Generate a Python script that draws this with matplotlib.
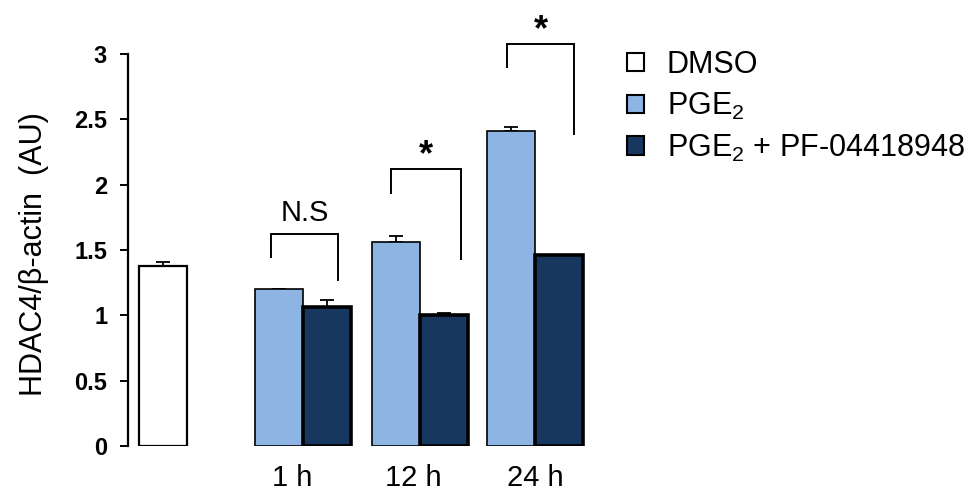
import matplotlib
matplotlib.use("Agg")
import matplotlib.pyplot as plt
from matplotlib.patches import Patch
import numpy as np

plt.rcParams['font.family'] = ['Liberation Sans', 'DejaVu Sans']
plt.rcParams['mathtext.fontset'] = 'custom'
plt.rcParams['mathtext.rm'] = 'Liberation Sans'
plt.rcParams['mathtext.it'] = 'Liberation Sans:italic'
plt.rcParams['mathtext.bf'] = 'Liberation Sans:bold'

# ---- data ----
time_labels = ["1 h", "12 h", "24 h"]
dmso_value = 1.38
dmso_err = 0.025
pge2_values = [1.20, 1.56, 2.41]
pge2_err = [0.005, 0.05, 0.035]
pf_values = [1.06, 1.00, 1.46]
pf_err = [0.06, 0.02, 0.005]
series_labels = ["DMSO", "PGE$_2$", "PGE$_2$ + PF-04418948"]
sig_labels = ["N.S", "*", "*"]
bracket_tops = [1.62, 2.12, 3.076]
bracket_left_bottoms = [1.446, 1.94, 2.90]
bracket_right_bottoms = [1.27, 1.43, 2.387]

c_dmso = "#FFFFFF"
c_pge2 = "#8EB4E3"
c_pf = "#17375E"

fig = plt.figure(figsize=(9.71, 4.91), dpi=100)
ax = fig.add_axes([128/971, 45/491, 472/971, 392/491])

w = 0.4085
dmso_x = 0.0
group_x = np.array([1.19, 2.187, 3.166])
pge2_x = group_x - w/2
pf_x = group_x + w/2

ax.bar([dmso_x], [dmso_value], width=w, color=c_dmso, edgecolor="black",
       linewidth=1.6, zorder=2)
ax.errorbar([dmso_x], [dmso_value], yerr=[[0], [dmso_err]], fmt="none",
            ecolor="black", elinewidth=1.3, capsize=5, capthick=1.3, zorder=1)

ax.bar(pge2_x, pge2_values, width=w, color=c_pge2, edgecolor="black",
       linewidth=1.2, zorder=2)
ax.errorbar(pge2_x, pge2_values, yerr=[np.zeros(3), pge2_err], fmt="none",
            ecolor="black", elinewidth=1.3, capsize=5, capthick=1.3, zorder=1)

ax.bar(pf_x, pf_values, width=w, color=c_pf, edgecolor="black",
       linewidth=2.6, zorder=3)
ax.errorbar(pf_x, pf_values, yerr=[np.zeros(3), pf_err], fmt="none",
            ecolor="black", elinewidth=1.3, capsize=5, capthick=1.3, zorder=1)

# significance brackets
bracket_lx = [0.92, 1.94, 2.93]
bracket_rx = [1.49, 2.54, 3.50]
for i in range(3):
    xl, xr = bracket_lx[i], bracket_rx[i]
    ax.plot([xl, xl, xr, xr],
            [bracket_left_bottoms[i], bracket_tops[i], bracket_tops[i], bracket_right_bottoms[i]],
            color="black", linewidth=1.4, clip_on=False, solid_joinstyle="miter")
    xm = (xl + xr) / 2
    if sig_labels[i] == "*":
        ax.annotate("*", xy=(xm, bracket_tops[i]), xytext=(0, -3),
                    textcoords="offset points", ha="center", va="bottom",
                    fontsize=26, fontweight="bold", annotation_clip=False)
    else:
        ax.annotate(sig_labels[i], xy=(xm, bracket_tops[i]), xytext=(0, 5),
                    textcoords="offset points", ha="center", va="bottom",
                    fontsize=21, annotation_clip=False)

ax.set_xlim(-0.298, 3.719)
ax.set_ylim(0, 3)
ax.set_yticks([0, 0.5, 1, 1.5, 2, 2.5, 3])
ax.set_yticklabels(["0", "0.5", "1", "1.5", "2", "2.5", "3"], fontsize=17, fontweight="bold")
ax.set_xticks([1.10, 2.13, 3.166])
ax.set_xticklabels(time_labels, fontsize=21)
ax.tick_params(axis="x", length=0, pad=13)
ax.tick_params(axis="y", direction="out", length=6, width=1.4, pad=9)

for s in ["top", "right", "bottom"]:
    ax.spines[s].set_visible(False)
ax.spines["left"].set_linewidth(1.6)

ax.set_ylabel("HDAC4/\u03b2-actin  (AU)", fontsize=22)
ax.yaxis.set_label_coords(-0.199, 0.49)
ax.yaxis.label.set_va("center")

handles = [Patch(facecolor=c_dmso, edgecolor="black", linewidth=1.5),
           Patch(facecolor=c_pge2, edgecolor="black", linewidth=1.5),
           Patch(facecolor=c_pf, edgecolor="black", linewidth=1.5)]
fig.legend(handles, series_labels, loc="upper left",
           bbox_to_anchor=(627/971, 1 - 50/491), frameon=False, fontsize=22,
           handlelength=0.55, handleheight=0.55, handletextpad=0.75,
           labelspacing=0.35, borderpad=0, borderaxespad=0)

fig.savefig("out.png", dpi=100)
